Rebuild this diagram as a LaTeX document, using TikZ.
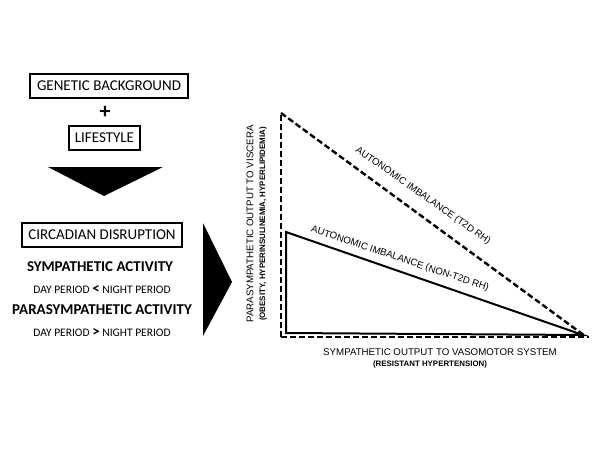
\documentclass[tikz,border=0pt]{standalone}
\usepackage{fontspec}
\setmainfont{Carlito}
\newfontfamily\arial{Liberation Sans}
\begin{document}
\begin{tikzpicture}[x=1pt,y=-1pt,
  box/.style={draw,line width=1.3pt,inner sep=0pt,font=\fontsize{15}{15}\selectfont},
  dashline/.style={line width=2.4pt,dash pattern=on 6pt off 3pt},
  solidline/.style={line width=2pt},
  axlab/.style={font=\arial\fontsize{9.7}{10}\selectfont,inner sep=0pt},
  axsub/.style={font=\arial\bfseries\fontsize{7.9}{8}\selectfont,inner sep=0pt},
  small/.style={font=\fontsize{11.5}{12}\selectfont,inner sep=0pt},
  head/.style={font=\bfseries\fontsize{15}{15}\selectfont,inner sep=0pt}]
\useasboundingbox (0,0) rectangle (600,450);
% left column
\node[box,minimum width=158pt,minimum height=24pt] (gen) at (109,86) {GENETIC BACKGROUND};
\node[font=\bfseries\fontsize{22}{22}\selectfont,inner sep=0pt] (plus) at (105,112) {+};
\node[box,minimum width=71pt,minimum height=24pt] (life) at (104.5,138) {LIFESTYLE};
\fill (48,167) -- (163,167) -- (104,196) -- cycle;
\node[box,minimum width=160pt,minimum height=24pt] (circ) at (102,235) {CIRCADIAN DISRUPTION};
\node[head] (symp) at (100,267) {SYMPATHETIC ACTIVITY};
\node[small] (d1) at (102,289) {DAY PERIOD {\bfseries\fontsize{15}{15}\selectfont <} NIGHT PERIOD};
\node[head] (para) at (102,310) {PARASYMPATHETIC ACTIVITY};
\node[small] (d2) at (102,332) {DAY PERIOD {\bfseries\fontsize{15}{15}\selectfont >} NIGHT PERIOD};
\fill (203,223) -- (203,336) -- (232,282) -- cycle;
% graph
\coordinate (top) at (281,113);
\coordinate (orig) at (281,337);
\coordinate (apex) at (585,336);
\coordinate (endx) at (589,337);
\draw[dashline] (orig) -- (top);
\draw[dashline] (top) -- (apex);
\draw[dashline] (orig) -- (endx);
\draw[solidline,line join=miter] (286,232) -- (286,333) -- (583,335) -- cycle;
\node[axlab,rotate=-35] (t2d) at (423,196) {AUTONOMIC IMBALANCE (T2D RH)};
\node[axlab,rotate=-18.5] (nont2d) at (400,259) {AUTONOMIC IMBALANCE (NON-T2D RH)};
\node[axlab,rotate=90] (ylab) at (250,224) {PARASYMPATHETIC OUTPUT TO VISCERA};
\node[axsub,rotate=90] (ysub) at (263,224) {(OBESITY, HYPERINSULINEMIA, HYPERLIPIDEMIA)};
\node[axlab] (xlab) at (440,352) {SYMPATHETIC OUTPUT TO VASOMOTOR SYSTEM};
\node[axsub] (xsub) at (430,364) {(RESISTANT HYPERTENSION)};
\end{tikzpicture}
\end{document}
